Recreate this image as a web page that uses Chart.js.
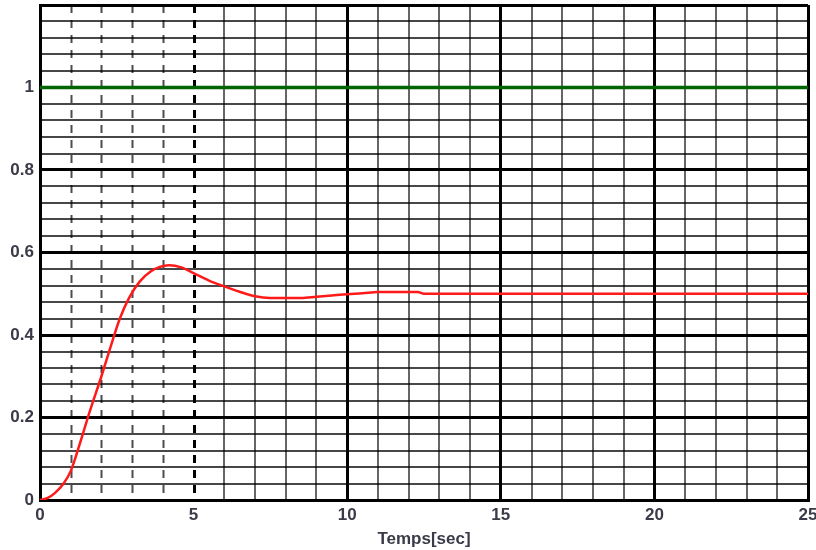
<!DOCTYPE html>
<html>
<head>
<meta charset="utf-8">
<script src="https://cdn.jsdelivr.net/npm/chart.js@4"></script>
<style>
  html, body { margin: 0; padding: 0; background: #fff; }
  #wrap { width: 816px; height: 550px; }
</style>
</head>
<body>
<div id="wrap"><canvas id="stepChart" width="816" height="550"></canvas></div>
<script>
// step response
const time = [0, 0.25, 0.5, 0.75, 1, 1.3, 1.6, 2, 2.3, 2.6, 2.9, 3.25, 3.6, 3.9, 4.2, 4.6, 5, 5.5, 6, 6.5, 7, 7.5, 8, 8.5, 9, 9.5, 10, 10.5, 11, 11.5, 12, 12.3, 12.5, 13, 14, 15, 16, 17, 18, 19, 20, 21, 22, 23, 24, 25];
const response = [0, 0.005, 0.018, 0.038, 0.07, 0.137, 0.21, 0.30, 0.372, 0.44, 0.49, 0.53, 0.554, 0.565, 0.569, 0.564, 0.55, 0.532, 0.518, 0.505, 0.494, 0.49, 0.49, 0.49, 0.493, 0.496, 0.499, 0.501, 0.504, 0.504, 0.504, 0.504, 0.5, 0.5, 0.5, 0.5, 0.5, 0.5, 0.5, 0.5, 0.5, 0.5, 0.5, 0.5, 0.5, 0.5];
// setpoint
const refTime = [0, 25];
const refValue = [1, 1];
// axes
const xLabels = [0, 5, 10, 15, 20, 25];
const yLabels = [0, 0.2, 0.4, 0.6, 0.8, 1];
const dashedX = [1, 2, 3, 4, 5];

const FONT = '"Liberation Sans", Arial, sans-serif';
const LABEL = '#3a3a48';
const isMult = (v, s) => Math.abs(v / s - Math.round(v / s)) < 1e-6;

// dashed verticals on the left part of the plot
const dashedGrid = {
    id: 'dashedGrid',
    beforeDatasetsDraw(chart) {
        const {ctx, chartArea, scales} = chart;
        ctx.save();
        dashedX.forEach(v => {
            const px = Math.round(scales.x.getPixelForValue(v)) + 0.5;
            ctx.beginPath();
            ctx.setLineDash([8, 7]);
            ctx.lineWidth = v === 5 ? 3 : 2;
            ctx.strokeStyle = v === 5 ? '#000' : 'rgba(0,0,0,0.7)';
            ctx.moveTo(px, chartArea.top);
            ctx.lineTo(px, chartArea.bottom);
            ctx.stroke();
        });
        ctx.restore();
    }
};

const ctx = document.getElementById('stepChart').getContext('2d');
new Chart(ctx, {
    type: 'line',
    data: {
        datasets: [{
            data: refTime.map((t, i) => ({x: t, y: refValue[i]})),
            borderColor: '#006400',
            borderWidth: 3.5,
            pointRadius: 0,
            fill: false
        }, {
            data: time.map((t, i) => ({x: t, y: response[i]})),
            borderColor: '#ff1a1a',
            borderWidth: 2.5,
            pointRadius: 0,
            cubicInterpolationMode: 'monotone',
            fill: false
        }]
    },
    options: {
        responsive: false,
        animation: false,
        layout: { padding: { top: 5, right: 8, left: 0, bottom: 0 } },
        plugins: { legend: { display: false }, tooltip: { enabled: false } },
        scales: {
            x: {
                type: 'linear',
                min: 0,
                max: 25,
                afterFit: s => { s.height = 50; s.paddingLeft = 0; s.paddingRight = 0; },
                ticks: {
                    stepSize: 1,
                    autoSkip: false,
                    maxRotation: 0,
                    padding: 5,
                    color: LABEL,
                    font: { family: FONT, size: 17, weight: 'bold' },
                    callback: v => xLabels.includes(v) ? String(v) : ''
                },
                grid: {
                    drawTicks: false,
                    color: c => {
                        const v = c.tick ? c.tick.value : 0;
                        if (dashedX.includes(v)) return 'rgba(0,0,0,0)';
                        return isMult(v, 5) ? '#000' : 'rgba(0,0,0,0.6)';
                    },
                    lineWidth: c => {
                        const v = c.tick ? c.tick.value : 0;
                        return isMult(v, 5) ? 3 : 2;
                    }
                },
                border: { color: '#000', width: 3 },
                title: {
                    display: true,
                    text: 'Temps[sec]',
                    color: LABEL,
                    font: { family: FONT, size: 17, weight: 'bold' },
                    padding: { top: 0, bottom: 0 }
                }
            },
            y: {
                type: 'linear',
                min: 0,
                max: 1.2,
                afterFit: s => { s.width = 40; s.paddingTop = 0; s.paddingBottom = 0; },
                ticks: {
                    stepSize: 0.04,
                    autoSkip: false,
                    padding: 6,
                    color: LABEL,
                    font: { family: FONT, size: 17, weight: 'bold' },
                    callback: v => {
                        const hit = yLabels.find(l => Math.abs(l - v) < 1e-6);
                        return hit === undefined ? '' : String(hit);
                    }
                },
                grid: {
                    drawTicks: false,
                    color: c => {
                        const v = c.tick ? c.tick.value : 0;
                        return isMult(v, 0.2) ? '#000' : 'rgba(0,0,0,0.72)';
                    },
                    lineWidth: c => {
                        const v = c.tick ? c.tick.value : 0;
                        return isMult(v, 0.2) ? 3 : 2;
                    }
                },
                border: { color: '#000', width: 3 }
            }
        }
    },
    plugins: [dashedGrid]
});
</script>
</body>
</html>
